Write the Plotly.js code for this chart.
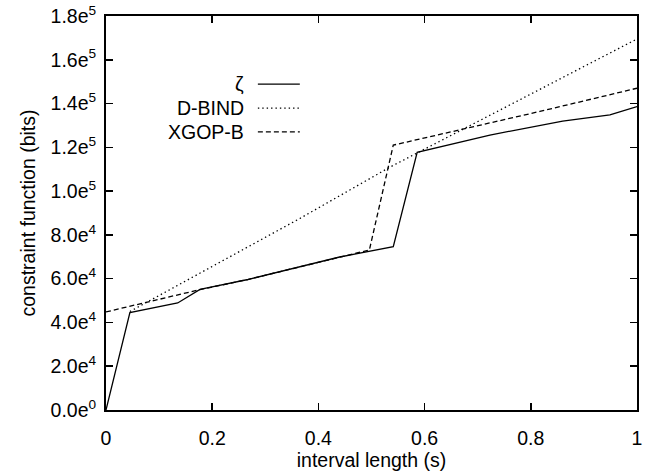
<!DOCTYPE html>
<html>
<head>
<meta charset="utf-8">
<script src="https://cdn.plot.ly/plotly-3.0.1.min.js"></script>
<style>html,body{margin:0;padding:0;background:#fff;}#chart{width:647px;height:471px;}</style>
</head>
<body>
<div id="chart"></div>
<script>
// Series names
const seriesNames = ["ζ", "D-BIND", "XGOP-B"];

// ζ (solid)
const zetaX = [0, 0.045, 0.135, 0.177, 0.265, 0.365, 0.44, 0.541, 0.586, 0.723, 0.81, 0.86, 0.949, 1.0];
const zetaY = [0, 44500, 48900, 55100, 59500, 65500, 69900, 74600, 117700, 125600, 129500, 132000, 134800, 138600];

// D-BIND (dotted)
const dbindX = [0.045, 0.365, 0.535, 1.0];
const dbindY = [45000, 87500, 111000, 169500];

// XGOP-B (dashed)
const xgopX = [0, 0.09, 0.177, 0.265, 0.365, 0.44, 0.496, 0.541, 0.817, 1.0];
const xgopY = [44800, 50000, 55000, 59500, 65500, 69900, 73100, 121000, 136400, 147000];

// Ticks
const xTickVals = [0, 0.2, 0.4, 0.6, 0.8, 1];
const xTickText = ["0", "0.2", "0.4", "0.6", "0.8", "1"];
const yTickVals = [0, 20000, 40000, 60000, 80000, 100000, 120000, 140000, 160000, 180000];
const yTickText = ["0.0e<sup>0</sup>", "2.0e<sup>4</sup>", "4.0e<sup>4</sup>", "6.0e<sup>4</sup>", "8.0e<sup>4</sup>",
                   "1.0e<sup>5</sup>", "1.2e<sup>5</sup>", "1.4e<sup>5</sup>", "1.6e<sup>5</sup>", "1.8e<sup>5</sup>"];

const dashes = ["solid", "1.4px,3px", "5px,3px"];
const xs = [zetaX, dbindX, xgopX];
const ys = [zetaY, dbindY, xgopY];

const FONT = "Liberation Sans, Arial, sans-serif";
const FS = 19.5;

const traces = seriesNames.map((n, i) => ({
  x: xs[i], y: ys[i], name: n, type: "scatter", mode: "lines",
  line: {color: "black", width: 1.3, dash: dashes[i]}
}));

// Custom gnuplot-style legend (text to the left of the line sample)
const legY = [0.827, 0.766, 0.706];
const annotations = seriesNames.map((n, i) => ({
  xref: "paper", yref: "paper", x: 0.264, y: legY[i], xanchor: "right", yanchor: "middle",
  text: n, showarrow: false, font: {family: FONT, size: FS, color: "black"}
}));
const shapes = seriesNames.map((n, i) => ({
  type: "line", xref: "paper", yref: "paper", x0: 0.286, x1: 0.365, y0: legY[i], y1: legY[i],
  line: {color: "black", width: 1.3, dash: dashes[i]}
}));

const axisCommon = {
  showline: true, linecolor: "black", linewidth: 2, mirror: "allticks",
  ticks: "inside", ticklen: 7, tickwidth: 1.5, tickcolor: "black",
  showgrid: false, zeroline: false,
  tickfont: {family: FONT, size: FS, color: "black"}
};

const layout = {
  width: 647, height: 471,
  margin: {l: 106, r: 10, t: 16, b: 61},
  paper_bgcolor: "white", plot_bgcolor: "white",
  showlegend: false,
  font: {family: FONT, size: FS, color: "black"},
  xaxis: Object.assign({}, axisCommon, {
    range: [0, 1], tickmode: "array", tickvals: xTickVals, ticktext: xTickText,
    ticklabelstandoff: 10,
    title: {text: "interval length (s)", font: {size: FS}, standoff: 0}
  }),
  yaxis: Object.assign({}, axisCommon, {
    range: [0, 180000], tickmode: "array", tickvals: yTickVals, ticktext: yTickText,
    ticklabelstandoff: 4,
    title: {text: "constraint function (bits)", font: {size: FS}, standoff: 10}
  }),
  annotations: annotations,
  shapes: shapes
};

Plotly.newPlot("chart", traces, layout, {displayModeBar: false, staticPlot: true});
</script>
</body>
</html>
